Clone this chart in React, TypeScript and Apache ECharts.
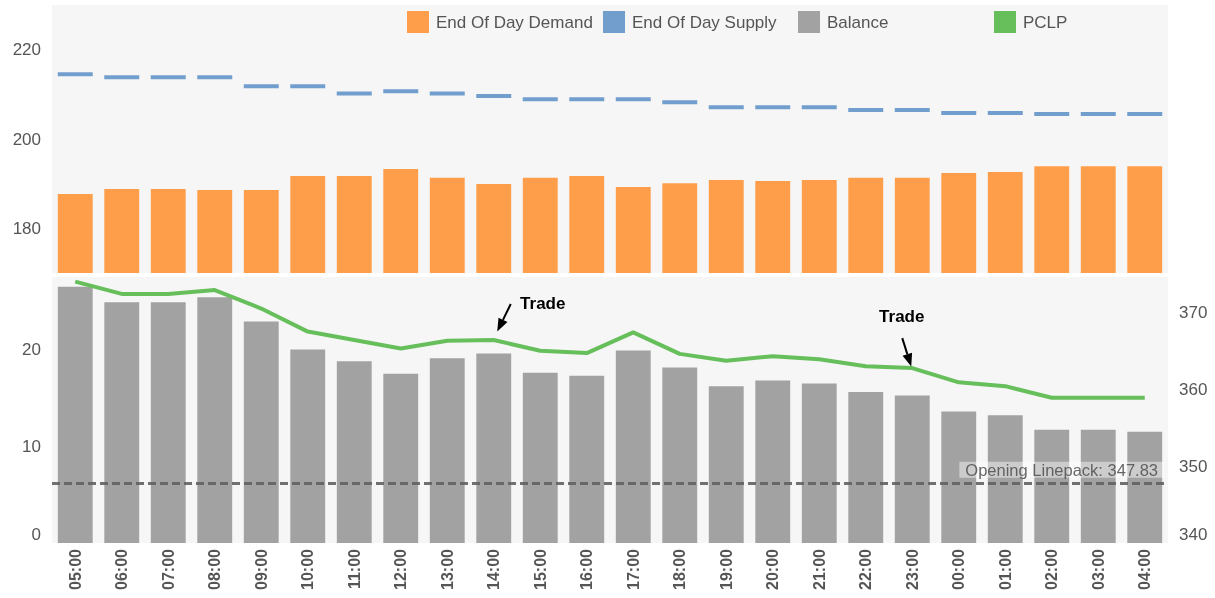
import React, { useEffect, useRef } from 'react';
import * as echarts from 'echarts';

const CATEGORIES = [
  '05:00', '06:00', '07:00', '08:00', '09:00', '10:00', '11:00', '12:00',
  '13:00', '14:00', '15:00', '16:00', '17:00', '18:00', '19:00', '20:00',
  '21:00', '22:00', '23:00', '00:00', '01:00', '02:00', '03:00', '04:00',
];

const DEMAND = [
  187.7, 188.8, 188.8, 188.6, 188.6, 191.7, 191.7, 193.3,
  191.3, 189.9, 191.3, 191.7, 189.25, 190.1, 190.8, 190.6,
  190.8, 191.3, 191.3, 192.4, 192.6, 193.9, 193.9, 193.9,
];

const SUPPLY = [
  214.5, 213.8, 213.8, 213.8, 211.8, 211.8, 210.2, 210.7,
  210.2, 209.6, 208.9, 208.9, 208.9, 208.2, 207.1, 207.1,
  207.1, 206.5, 206.5, 205.8, 205.8, 205.6, 205.6, 205.6,
];

const BALANCE = [
  26.5, 24.9, 24.9, 25.4, 22.9, 20.0, 18.8, 17.5,
  19.1, 19.6, 17.6, 17.3, 19.9, 18.15, 16.2, 16.8,
  16.5, 15.6, 15.25, 13.6, 13.2, 11.7, 11.7, 11.5,
];

const PCLP = [
  374.0, 372.4, 372.4, 372.9, 370.5, 367.5, 366.4, 365.3,
  366.3, 366.4, 365.0, 364.7, 367.4, 364.6, 363.7, 364.3,
  363.9, 363.0, 362.75, 360.9, 360.4, 358.9, 358.9, 358.9,
];

const OPENING_LINEPACK = 347.83;
const TRADE_HOURS = ['14:00', '23:00'];
const TRADE_TEXT = 'Trade';

const FONT = 'Arial, "Liberation Sans", Helvetica, sans-serif';
const AXIS_GREY = '#555';

// annotation layout offsets (pixels, relative to the annotated point)
const ANNOTATION_LAYOUT = [
  { tip: [3.5, -8.5], tail: [17, -36], text: [49, -37] },
  { tip: [-1, -1.5], tail: [-10, -30], text: [-10.5, -52] },
];

export default function App() {
  const ref = useRef<HTMLDivElement>(null);

  useEffect(() => {
    if (!ref.current) return;
    const chart = echarts.init(ref.current, null, { renderer: 'svg' });

    const legendCommon = {
      icon: 'rect',
      itemWidth: 22,
      itemHeight: 22,
      padding: 0,
      top: 11,
      textStyle: { fontSize: 17, color: AXIS_GREY, fontFamily: FONT, padding: [0, 0, 0, 2] },
    };

    const yCommon = {
      type: 'value',
      splitLine: { show: false },
      axisLine: { show: false },
      axisTick: { show: false },
    };

    const option: any = {
      animation: false,
      textStyle: { fontFamily: FONT },
      legend: [
        { ...legendCommon, left: 407, data: ['End Of Day Demand'] },
        { ...legendCommon, left: 603, data: ['End Of Day Supply'] },
        { ...legendCommon, left: 798, data: ['Balance'] },
        { ...legendCommon, left: 994, data: ['PCLP'] },
      ],
      grid: [
        { left: 52, top: 5, width: 1116, height: 268, show: true, backgroundColor: '#f6f6f6', borderWidth: 0 },
        { left: 52, top: 277, width: 1116, height: 266, show: true, backgroundColor: '#f6f6f6', borderWidth: 0 },
      ],
      xAxis: [
        { gridIndex: 0, type: 'category', data: CATEGORIES, show: false },
        {
          gridIndex: 1,
          type: 'category',
          data: CATEGORIES,
          axisLine: { show: false },
          axisTick: { show: false },
          axisLabel: {
            rotate: 90,
            fontSize: 16,
            fontWeight: 'bold',
            color: AXIS_GREY,
            margin: 6,
            fontFamily: FONT,
          },
        },
      ],
      yAxis: [
        {
          ...yCommon,
          gridIndex: 0,
          min: 170,
          max: 230,
          interval: 10,
          axisLabel: {
            formatter: (v: number) => (v % 20 === 0 ? String(v) : ''),
            fontSize: 17,
            color: AXIS_GREY,
            margin: 11,
            fontFamily: FONT,
          },
        },
        {
          ...yCommon,
          gridIndex: 1,
          min: 0,
          max: 27.5,
          interval: 10,
          axisLabel: {
            formatter: (v: number) => (v % 10 === 0 ? String(v) : ''),
            fontSize: 17,
            color: AXIS_GREY,
            margin: 11,
            fontFamily: FONT,
            verticalAlignMinLabel: 'bottom',
          },
        },
        {
          ...yCommon,
          gridIndex: 1,
          position: 'right',
          min: 340,
          max: 374.6,
          interval: 10,
          axisLabel: {
            formatter: (v: number) => (v % 10 === 0 ? String(v) : ''),
            fontSize: 17,
            color: AXIS_GREY,
            margin: 11,
            fontFamily: FONT,
            verticalAlignMinLabel: 'bottom',
          },
        },
      ],
      series: [
        {
          name: 'End Of Day Demand',
          type: 'bar',
          xAxisIndex: 0,
          yAxisIndex: 0,
          data: DEMAND,
          barCategoryGap: '25%',
          itemStyle: { color: '#FF9E4A' },
        },
        {
          name: 'End Of Day Supply',
          type: 'scatter',
          xAxisIndex: 0,
          yAxisIndex: 0,
          data: SUPPLY,
          symbol: 'rect',
          symbolSize: [35, 4],
          itemStyle: { color: '#729ECE', opacity: 1 },
        },
        {
          name: 'Balance',
          type: 'bar',
          xAxisIndex: 1,
          yAxisIndex: 1,
          data: BALANCE,
          barCategoryGap: '25%',
          itemStyle: { color: '#A2A2A2' },
        },
        {
          name: 'PCLP',
          type: 'line',
          xAxisIndex: 1,
          yAxisIndex: 2,
          data: PCLP,
          symbol: 'none',
          showSymbol: false,
          z: 5,
          lineStyle: { width: 4, color: '#67BF5C' },
          itemStyle: { color: '#67BF5C' },
          markLine: {
            silent: true,
            symbol: 'none',
            data: [{ yAxis: OPENING_LINEPACK }],
            lineStyle: { type: [8, 4], color: '#626262', width: 3, opacity: 0.9 },
            label: {
              show: true,
              position: 'insideEndTop',
              formatter: `Opening Linepack: ${OPENING_LINEPACK}`,
              color: AXIS_GREY,
              fontSize: 16.5,
              fontFamily: FONT,
              lineHeight: 16,
              backgroundColor: 'rgba(255,255,255,0.5)',
              padding: [0, 6, 0, 6],
              distance: [4, 5],
            },
          },
        },
      ],
    };

    chart.setOption(option);

    const graphics: any[] = [];
    TRADE_HOURS.forEach((hour, i) => {
      const idx = CATEGORIES.indexOf(hour);
      const layout = ANNOTATION_LAYOUT[i];
      const pt = chart.convertToPixel({ seriesIndex: 3 }, [idx, PCLP[idx]]) as number[];
      const [px, py] = pt;
      const tip = [px + layout.tip[0], py + layout.tip[1]];
      const tail = [px + layout.tail[0], py + layout.tail[1]];
      const dx = tip[0] - tail[0];
      const dy = tip[1] - tail[1];
      const len = Math.hypot(dx, dy);
      const ux = dx / len;
      const uy = dy / len;
      const headLen = 13;
      const headW = 5;
      const base = [tip[0] - ux * headLen, tip[1] - uy * headLen];
      const nx = -uy;
      const ny = ux;
      graphics.push({
        type: 'line',
        silent: true,
        z: 10,
        shape: { x1: tail[0], y1: tail[1], x2: base[0], y2: base[1] },
        style: { stroke: '#000', lineWidth: 2 },
      });
      graphics.push({
        type: 'polygon',
        silent: true,
        z: 10,
        shape: {
          points: [
            tip,
            [base[0] + nx * headW, base[1] + ny * headW],
            [base[0] - nx * headW, base[1] - ny * headW],
          ],
        },
        style: { fill: '#000' },
      });
      graphics.push({
        type: 'text',
        silent: true,
        z: 10,
        x: px + layout.text[0],
        y: py + layout.text[1],
        style: {
          text: TRADE_TEXT,
          fontSize: 17,
          fontWeight: 'bold',
          fontFamily: FONT,
          fill: '#000',
          align: 'center',
          verticalAlign: 'middle',
        },
      });
    });
    chart.setOption({ graphic: graphics });

    return () => {
      chart.dispose();
    };
  }, []);

  return (
    <div
      ref={ref}
      style={{ position: 'fixed', left: 0, top: 0, width: 1215, height: 598 }}
    />
  );
}
